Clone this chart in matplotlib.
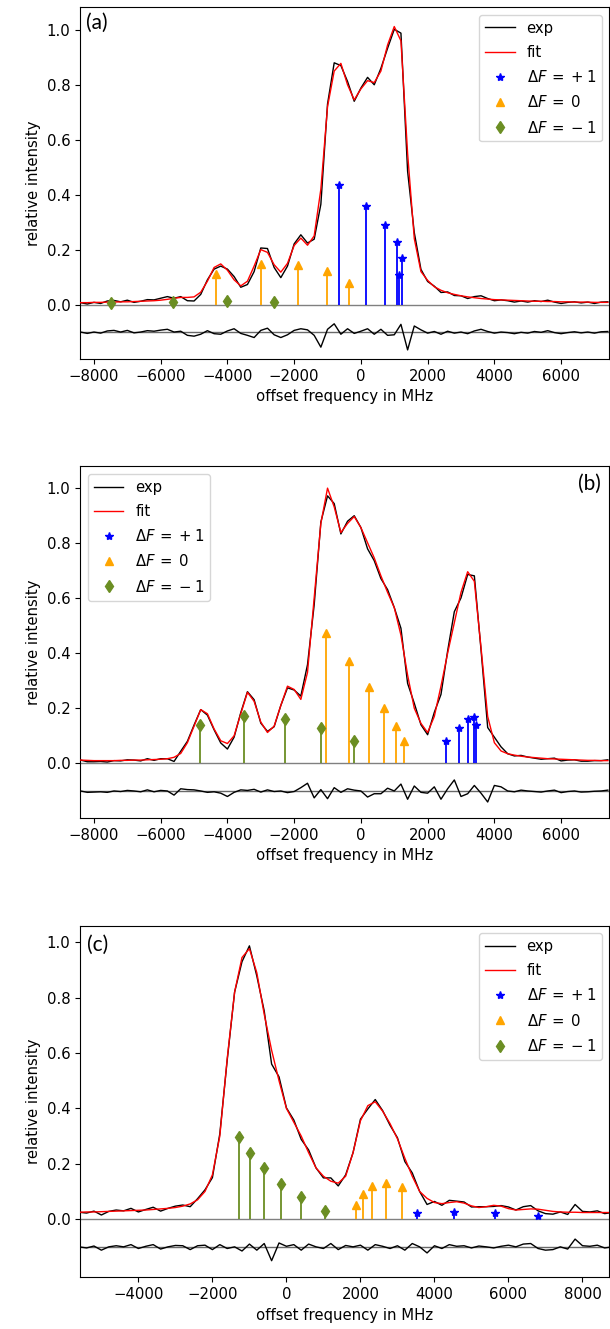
import matplotlib
matplotlib.use("Agg")
import matplotlib.pyplot as plt
import matplotlib.transforms as mtransforms
import numpy as np

# ===== DATA =====
# panels (a) and (b): frequency grid in MHz, step 200
freq_ab = np.arange(-8400, 7401, 200)
# panel (c)
freq_c = np.arange(-5600, 8801, 200)

fit_a = [0.007, 0.007, 0.008, 0.008, 0.009, 0.009, 0.010, 0.010, 0.011, 0.012,
         0.013, 0.014, 0.016, 0.019, 0.023, 0.026, 0.026, 0.028, 0.045, 0.085,
         0.135, 0.148, 0.125, 0.090, 0.068, 0.085, 0.140, 0.200, 0.190, 0.145,
         0.118, 0.150, 0.215, 0.242, 0.216, 0.250, 0.420, 0.720, 0.850, 0.878,
         0.800, 0.745, 0.785, 0.815, 0.808, 0.850, 0.945, 1.012, 0.960, 0.550,
         0.240, 0.120, 0.088, 0.065, 0.052, 0.043, 0.037, 0.032, 0.028, 0.025,
         0.022, 0.020, 0.018, 0.017, 0.016, 0.015, 0.014, 0.013, 0.012, 0.012,
         0.011, 0.011, 0.010, 0.010, 0.009, 0.009, 0.009, 0.008, 0.008, 0.008]
resid_a = [0.000, -0.005, 0.000, -0.004, 0.004, 0.006, 0.000, 0.006, -0.003, 0.000,
           0.005, 0.003, 0.007, 0.010, 0.000, 0.003, -0.012, -0.015, -0.008, 0.005,
           -0.006, -0.008, 0.004, 0.012, -0.005, -0.012, -0.020, 0.006, 0.014, -0.010,
           -0.020, -0.010, 0.006, 0.012, 0.008, -0.012, -0.055, 0.010, 0.030, -0.008,
           0.012, -0.005, 0.003, 0.012, -0.008, 0.010, -0.012, -0.010, 0.028, -0.065,
           0.022, 0.008, -0.004, 0.002, -0.008, 0.003, -0.004, 0.000, -0.006, 0.004,
           0.010, 0.002, -0.004, 0.000, -0.002, -0.006, -0.001, -0.004, 0.002, -0.001,
           0.005, -0.002, -0.006, -0.002, 0.001, -0.003, 0.000, -0.004, 0.001, 0.002]

fit_b = [0.012, 0.011, 0.010, 0.010, 0.010, 0.010, 0.011, 0.011, 0.012, 0.012,
         0.013, 0.014, 0.015, 0.017, 0.022, 0.036, 0.075, 0.135, 0.195, 0.180,
         0.125, 0.082, 0.072, 0.100, 0.180, 0.258, 0.225, 0.150, 0.112, 0.135,
         0.210, 0.280, 0.268, 0.232, 0.330, 0.600, 0.870, 0.998, 0.930, 0.837,
         0.870, 0.895, 0.855, 0.800, 0.745, 0.680, 0.620, 0.565, 0.465, 0.320,
         0.200, 0.145, 0.112, 0.170, 0.280, 0.400, 0.510, 0.620, 0.695, 0.660,
         0.420, 0.170, 0.075, 0.045, 0.035, 0.030, 0.026, 0.023, 0.021, 0.019,
         0.017, 0.016, 0.015, 0.014, 0.013, 0.012, 0.011, 0.011, 0.010, 0.010]
resid_b = [0.000, -0.005, -0.004, -0.003, -0.005, 0.000, -0.002, 0.002, 0.000, -0.003,
           0.004, -0.003, 0.002, 0.000, -0.015, 0.008, 0.005, 0.004, 0.000, -0.005,
           -0.003, -0.008, -0.020, -0.005, 0.004, 0.002, 0.006, -0.004, 0.004, -0.002,
           0.000, -0.006, -0.002, 0.012, 0.028, -0.025, 0.005, -0.028, 0.012, -0.005,
           0.008, 0.003, 0.000, -0.022, -0.010, -0.010, 0.010, 0.000, 0.025, -0.030,
           0.018, -0.005, -0.008, 0.015, -0.030, 0.008, 0.040, -0.020, -0.010, 0.020,
           -0.008, -0.040, 0.020, 0.015, 0.000, -0.003, 0.003, 0.000, -0.002, -0.004,
           0.000, 0.003, -0.006, -0.002, 0.000, -0.004, -0.003, -0.001, 0.000, 0.003]

fit_c = [0.025, 0.026, 0.026, 0.027, 0.028, 0.029, 0.030, 0.031, 0.032, 0.033,
         0.035, 0.037, 0.039, 0.042, 0.047, 0.055, 0.070, 0.100, 0.160, 0.300,
         0.580, 0.820, 0.945, 0.977, 0.890, 0.740, 0.610, 0.500, 0.400, 0.350,
         0.300, 0.240, 0.185, 0.155, 0.137, 0.130, 0.155, 0.240, 0.355, 0.410,
         0.424, 0.390, 0.345, 0.290, 0.220, 0.155, 0.100, 0.075, 0.060, 0.056,
         0.060, 0.063, 0.058, 0.048, 0.042, 0.045, 0.050, 0.047, 0.038, 0.033,
         0.035, 0.037, 0.036, 0.032, 0.028, 0.026, 0.025, 0.025, 0.024, 0.024,
         0.024, 0.024, 0.024]
resid_c = [0.000, -0.004, 0.003, -0.012, 0.000, 0.004, 0.000, 0.008, -0.006, 0.002,
           0.008, -0.008, 0.000, 0.005, 0.004, -0.010, 0.004, 0.006, -0.010, 0.008,
           -0.006, 0.000, -0.015, 0.010, -0.012, 0.012, -0.050, 0.014, 0.002, 0.008,
           -0.012, 0.010, 0.000, -0.006, 0.012, -0.010, 0.005, 0.000, 0.006, -0.012,
           0.008, 0.002, -0.006, 0.004, -0.012, 0.012, 0.000, -0.022, 0.004, -0.006,
           0.008, 0.002, 0.004, -0.004, 0.003, 0.000, -0.004, 0.002, 0.006, 0.000,
           0.010, 0.012, -0.006, -0.012, -0.010, 0.000, -0.008, 0.028, 0.004, 0.002,
           0.006, -0.004, 0.000]

# stick spectra: positions (MHz) and intensities
plus_a_pos = [-649, 160, 723, 1085, 1149, 1223]
plus_a_int = [0.434, 0.360, 0.291, 0.227, 0.109, 0.168]
zero_a_pos = [-4330, -3000, -1894, -1011, -351]
zero_a_int = [0.111, 0.147, 0.145, 0.121, 0.079]
minus_a_pos = [-7489, -5628, -4000, -2596]
minus_a_int = [0.005, 0.010, 0.014, 0.010]

plus_b_pos = [2543, 2936, 3213, 3383, 3436]
plus_b_int = [0.081, 0.128, 0.160, 0.170, 0.138]
zero_b_pos = [-1043, -351, 234, 702, 1053, 1287]
zero_b_int = [0.474, 0.371, 0.278, 0.200, 0.137, 0.082]
minus_b_pos = [-4830, -3500, -2277, -1191, -202]
minus_b_int = [0.139, 0.172, 0.162, 0.129, 0.081]

plus_c_pos = [3528, 4538, 5632, 6811]
plus_c_int = [0.022, 0.025, 0.022, 0.012]
zero_c_pos = [1877, 2057, 2321, 2689, 3132]
zero_c_int = [0.052, 0.091, 0.120, 0.132, 0.115]
minus_c_pos = [-1274, -991, -613, -151, 406, 1047]
minus_c_int = [0.298, 0.238, 0.183, 0.127, 0.081, 0.031]

RES_OFFSET = -0.1
FS = 10.7
plt.rcParams['font.size'] = FS


def draw_panel(ax, freq, fit, resid, sticks, tag, tag_x, tag_y, tag_ha, leg_loc, xlim, ylim):
    fit = np.array(fit)
    resid = np.array(resid)
    exp = fit + resid

    ax.plot(freq, exp, color="black", lw=1, label="exp", zorder=4)
    ax.plot(freq, fit, color="red", lw=1, label="fit", zorder=5)

    # residual trace below the spectrum
    ax.axhline(RES_OFFSET, color="dimgray", lw=1, zorder=2)
    ax.plot(freq, RES_OFFSET + resid, color="black", lw=1, zorder=3)
    ax.axhline(0, color="gray", lw=1, zorder=2)

    styles = [("*", "blue", r"$\Delta F\:=\:+\:1$"),
              ("^", "orange", r"$\Delta F\:=\:0$"),
              ("d", "olivedrab", r"$\Delta F\:=\:-\:1$")]
    for (pos, inten), (m, c, lab) in zip(sticks, styles):
        ax.vlines(pos, 0, inten, color=c, lw=1.3, zorder=3)
        ax.plot(pos, inten, m, color=c, ms=6, ls="none", label=lab, zorder=6)

    ax.set_xlim(*xlim)
    ax.set_ylim(*ylim)
    ax.set_yticks([0.0, 0.2, 0.4, 0.6, 0.8, 1.0])
    ax.set_xlabel("offset frequency in MHz")
    ax.set_ylabel("relative intensity")
    ax.legend(loc=leg_loc, fontsize=FS, labelspacing=0.62)

    trans = mtransforms.blended_transform_factory(ax.transAxes, ax.transData)
    ax.text(tag_x, tag_y, tag, transform=trans, ha=tag_ha, va="center",
            fontsize=15, family="Lato")


fig = plt.figure(figsize=(6.1, 13.29), dpi=100)
ax_a = fig.add_axes([0.1316, 0.7299, 0.8670, 0.2646])
ax_b = fig.add_axes([0.1316, 0.3845, 0.8670, 0.2646])
ax_c = fig.add_axes([0.1316, 0.0389, 0.8670, 0.2646])

draw_panel(ax_a, freq_ab, fit_a, resid_a,
           [(plus_a_pos, plus_a_int), (zero_a_pos, zero_a_int), (minus_a_pos, minus_a_int)],
           "(a)", 0.011, 1.025, "left", "upper right", (-8410, 7440), (-0.198, 1.082))
draw_panel(ax_b, freq_ab, fit_b, resid_b,
           [(plus_b_pos, plus_b_int), (zero_b_pos, zero_b_int), (minus_b_pos, minus_b_int)],
           "(b)", 0.985, 1.015, "right", "upper left", (-8410, 7440), (-0.198, 1.077))
draw_panel(ax_c, freq_c, fit_c, resid_c,
           [(plus_c_pos, plus_c_int), (zero_c_pos, zero_c_int), (minus_c_pos, minus_c_int)],
           "(c)", 0.013, 0.99, "left", "upper right", (-5570, 8720), (-0.21, 1.06))

fig.savefig("out.png", dpi=100)
